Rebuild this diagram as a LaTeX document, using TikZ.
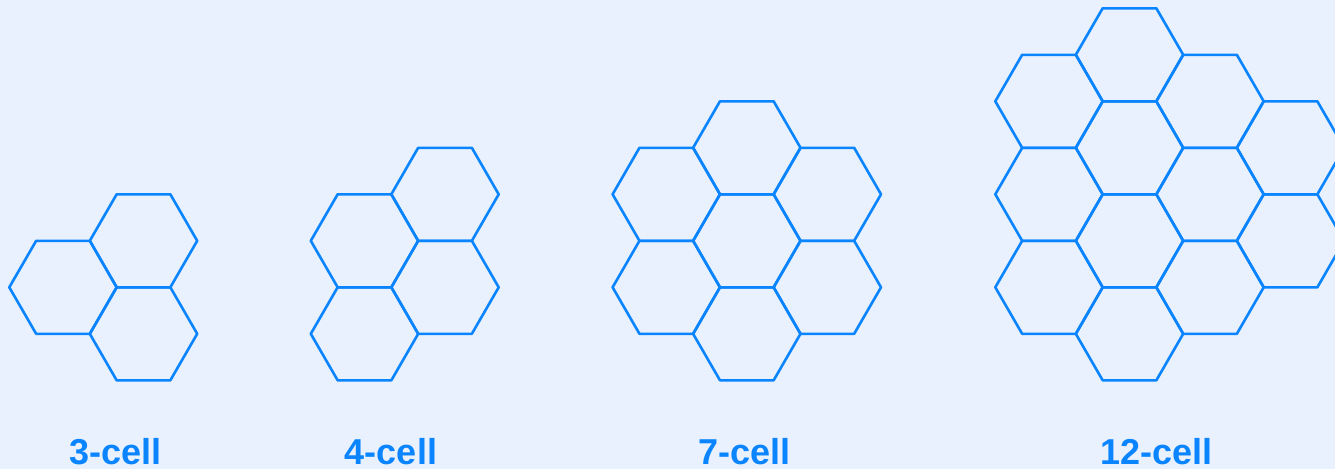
\documentclass[tikz,border=0pt]{standalone}
\usepackage{fontspec}
\setmainfont{Liberation Sans}
\definecolor{bgblue}{HTML}{E8F1FD}
\definecolor{hexblue}{HTML}{0A84FF}
\begin{document}
\begin{tikzpicture}[x=1pt,y=-1pt,
  hexline/.style={draw=hexblue, line width=2.6pt, line join=round},
  lbl/.style={text=hexblue, font=\fontsize{36}{40}\selectfont\bfseries, anchor=base, inner sep=0pt},
  pics/hexcell/.style={code={
    \draw[hexline] (-53.7,0) -- (-26.85,-46.5) -- (26.85,-46.5) -- (53.7,0) -- (26.85,46.5) -- (-26.85,46.5) -- cycle;
  }}]
\useasboundingbox (0,0) rectangle (1335,469);
\fill[bgblue] (0,0) rectangle (1335,469);
\begin{scope}
\clip (0,0) rectangle (1335,469);
% 3-cell
\foreach \x/\y in {63/287.3, 143.5/240.8, 143.5/333.8}
  \pic at (\x,\y) {hexcell};
% 4-cell
\foreach \x/\y in {364.5/240.8, 364.5/333.8, 445/194.3, 445/287.3}
  \pic at (\x,\y) {hexcell};
% 7-cell
\foreach \x/\y in {666.3/194.3, 666.3/287.3, 746.8/147.8, 746.8/240.8, 746.8/333.8, 827.3/194.3, 827.3/287.3}
  \pic at (\x,\y) {hexcell};
% 12-cell
\foreach \x/\y in {1049/101.3, 1049/194.3, 1049/287.3,
                   1129.5/54.8, 1129.5/147.8, 1129.5/240.8, 1129.5/333.8,
                   1210/101.3, 1210/194.3, 1210/287.3,
                   1290.5/147.8, 1290.5/240.8}
  \pic at (\x,\y) {hexcell};
\end{scope}
\node[lbl] (l3) at (115.5,464.5) {3-cell};
\node[lbl] (l4) at (391,464.5) {4-cell};
\node[lbl] (l7) at (744.5,464.5) {7-cell};
\node[lbl] (l12) at (1156.5,464.5) {12-cell};
\end{tikzpicture}
\end{document}
